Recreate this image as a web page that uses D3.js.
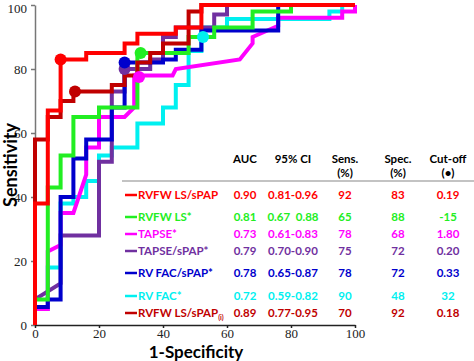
<!DOCTYPE html>
<html lang="en">
<head>
    <meta charset="UTF-8">
    <title>ROC curves</title>
    <script src="https://d3js.org/d3.v7.min.js"></script>
    <style>
        body { margin: 0; background: #fff; }
    </style>
</head>
<body>
    <svg id="roc" width="474" height="361"></svg>

    <script>
        // ROC curve points: [1-specificity %, sensitivity %]
        const rvfwLsSpap = [[0,0],[0,38],[4,38],[4,67],[8,67],[8,83],[16,83],[16,85],[28,85],[28,88],[32,88],[32,91],[44,91],[44,93],[52,93],[52,100],[100,100]];
        const rvfwLs = [[0,0],[0,8],[4,8],[4,43],[8,43],[8,53],[12,53],[12,65],[20,65],[20,68],[32,68],[32,85],[48,85],[48,90],[56,90],[56,93],[68,93],[68,98],[80,98],[80,100],[100,100]];
        const tapse = [[0,0],[0,5],[4,5],[4,23],[8,25],[8,35],[12,35],[16,47],[16,55.5],[20,55.5],[20,65],[28,65],[31,68],[31,78],[43,78],[44,80],[64,83],[68,88],[68,90],[76,93.5],[76,96],[96,96],[96,98],[100,98],[100,100]];
        const tapseSpap = [[0,0],[0,8],[8,13],[8,28],[20,28],[20,51],[24,51],[24,73],[28,73],[28,80],[36,80],[36,83],[40,83],[40,90],[44,90],[44,93],[56,93],[56,97],[60,97],[60,100],[100,100]];
        const rvFacSpap = [[0,0],[0,5.6],[4,5.6],[4,8],[8,8],[8,40],[12,40],[12,52],[16,52],[16,58],[24,58],[24,68],[28,68],[28,82],[40,82],[40,83],[44,83],[44,86],[52,86],[52,92],[76,92],[76,100],[100,100]];
        const rvFac = [[0,0],[0,5],[4,5],[4,18],[8,18],[8,38],[12,38],[12,40],[16,40],[16,45],[20,45],[20,53],[24,53],[24,55.5],[32,55.5],[32,63],[40,63],[40,68],[44,68],[44,75],[48,75],[48,85.6],[52,85.6],[52,93],[60,93],[60,95.6],[92,95.6],[92,98],[96,98],[96,100],[100,100]];
        const rvfwLsSpapI = [[0,0],[0,58],[4,58],[4,65],[8,65],[8,70],[12,70],[12,73],[24,73],[24,75],[28,75],[28,78],[32,78],[32,82],[36,82],[36,85],[40,85],[40,88],[48,88],[48,98],[52,98],[52,100],[100,100]];

        // cut-off points (dots)
        const cutPoints = [[8,83],[33,85],[32.5,77.5],[28,80],[28,82],[52.5,90],[12.5,73]];

        // table
        const seriesNames = ["RVFW LS/sPAP", "RVFW LS*", "TAPSE*", "TAPSE/sPAP*", "RV FAC/sPAP*", "RV FAC*", "RVFW LS/sPAP"];
        const seriesColors = ["#ff0000", "#22ee22", "#ff00ff", "#7030a0", "#0000cc", "#00f0f0", "#c00000"];
        const aucVals = ["0.90", "0.81", "0.73", "0.79", "0.78", "0.72", "0.89"];
        const ciVals = ["0.81-0.96", "0.67\u00a0\u00a00.88", "0.61-0.83", "0.70-0.90", "0.65-0.87", "0.59-0.82", "0.77-0.95"];
        const sensVals = ["92", "65", "78", "75", "78", "90", "70"];
        const specVals = ["83", "88", "68", "72", "72", "48", "92"];
        const cutoffVals = ["0.19", "-15", "1.80", "0.20", "0.33", "32", "0.18"];
        const rowY = [195, 217, 234, 251, 273, 296, 313];

        const xTicks = [0, 20, 40, 60, 80, 100];
        const yTicks = [0, 20, 40, 60, 80, 100];

        const curves = [rvfwLsSpap, rvfwLs, tapse, tapseSpap, rvFacSpap, rvFac, rvfwLsSpapI];

        const svg = d3.select("#roc");

        const x = d3.scaleLinear().domain([0, 100]).range([35, 355]);
        const y = d3.scaleLinear().domain([0, 100]).range([325, 5]);

        // axes
        const yAxis = svg.append("g")
            .attr("transform", "translate(35,0)")
            .call(d3.axisLeft(y).tickValues(yTicks).tickSize(4).tickPadding(4).tickSizeOuter(0));
        const xAxis = svg.append("g")
            .attr("transform", "translate(0,325)")
            .call(d3.axisBottom(x).tickValues(xTicks).tickSize(3).tickPadding(1).tickSizeOuter(0));

        [xAxis, yAxis].forEach(a => {
            a.selectAll("text")
                .attr("font-family", "'Liberation Serif', 'DejaVu Serif', serif")
                .attr("font-size", "13px")
                .attr("fill", "#222");
        });
        // keep the top label inside the picture
        yAxis.selectAll(".tick").filter(d => d === 100).select("text").attr("dy", "0.6em");
        yAxis.selectAll("line, path").attr("stroke", "#777").attr("stroke-width", 1.5);
        xAxis.selectAll("line, path").attr("stroke", "#222").attr("stroke-width", 1.5);

        // axis titles
        svg.append("text")
            .attr("transform", "translate(17,165) rotate(-90)")
            .attr("text-anchor", "middle")
            .attr("font-family", "Lato, 'Open Sans', sans-serif")
            .attr("font-weight", "bold")
            .attr("font-size", "18px")
            .text("Sensitivity");

        svg.append("text")
            .attr("x", 196)
            .attr("y", 358)
            .attr("text-anchor", "middle")
            .attr("font-family", "Lato, 'Open Sans', sans-serif")
            .attr("font-weight", "bold")
            .attr("font-size", "17px")
            .text("1-Specificity");

        // curves (draw cyan first, red last)
        const line = d3.line()
            .x(d => x(d[0]))
            .y(d => y(d[1]));

        const drawOrder = [5, 2, 3, 4, 1, 6, 0];
        drawOrder.forEach(i => {
            svg.append("path")
                .datum(curves[i])
                .attr("fill", "none")
                .attr("stroke", seriesColors[i])
                .attr("stroke-width", 4)
                .attr("stroke-linejoin", "miter")
                .attr("d", line);
        });

        // cut-off dots
        drawOrder.forEach(i => {
            svg.append("circle")
                .attr("cx", x(cutPoints[i][0]))
                .attr("cy", y(cutPoints[i][1]))
                .attr("r", 6)
                .attr("fill", seriesColors[i]);
        });

        // table
        const tableFont = "Lato, 'Open Sans', sans-serif";
        const colX = [245, 293, 345, 398, 448];
        const headers = ["AUC", "95% CI", "Sens.", "Spec.", "Cut-off"];
        const subHeaders = ["", "", "(%)", "(%)", "(\u2022)"];

        headers.forEach((h, i) => {
            svg.append("text")
                .attr("x", colX[i]).attr("y", 163)
                .attr("text-anchor", "middle")
                .attr("font-family", tableFont)
                .attr("font-weight", "bold")
                .attr("font-size", "11.5px")
                .text(h);
            svg.append("text")
                .attr("x", colX[i]).attr("y", 177)
                .attr("text-anchor", "middle")
                .attr("font-family", tableFont)
                .attr("font-weight", "bold")
                .attr("font-size", "11.5px")
                .text(subHeaders[i]);
        });

        svg.append("line")
            .attr("x1", 122).attr("x2", 474)
            .attr("y1", 181).attr("y2", 181)
            .attr("stroke", "#888")
            .attr("stroke-width", 1.2);

        seriesNames.forEach((name, i) => {
            const g = svg.append("g")
                .attr("fill", seriesColors[i])
                .attr("font-family", tableFont)
                .attr("font-weight", "bold")
                .attr("font-size", "11.5px");

            g.append("line")
                .attr("x1", 125).attr("x2", 137)
                .attr("y1", rowY[i]).attr("y2", rowY[i])
                .attr("stroke", seriesColors[i])
                .attr("stroke-width", 2.5);

            const label = g.append("text")
                .attr("x", 138).attr("y", rowY[i])
                .attr("dy", "0.35em")
                .text(name);
            if (i === 6) {
                label.append("tspan")
                    .attr("font-size", "7px")
                    .attr("dy", "3")
                    .text("(i)");
            }

            const vals = [aucVals[i], ciVals[i], sensVals[i], specVals[i], cutoffVals[i]];
            vals.forEach((v, j) => {
                g.append("text")
                    .attr("x", colX[j]).attr("y", rowY[i])
                    .attr("dy", "0.35em")
                    .attr("text-anchor", "middle")
                    .text(v);
            });
        });
    </script>
</body>
</html>
